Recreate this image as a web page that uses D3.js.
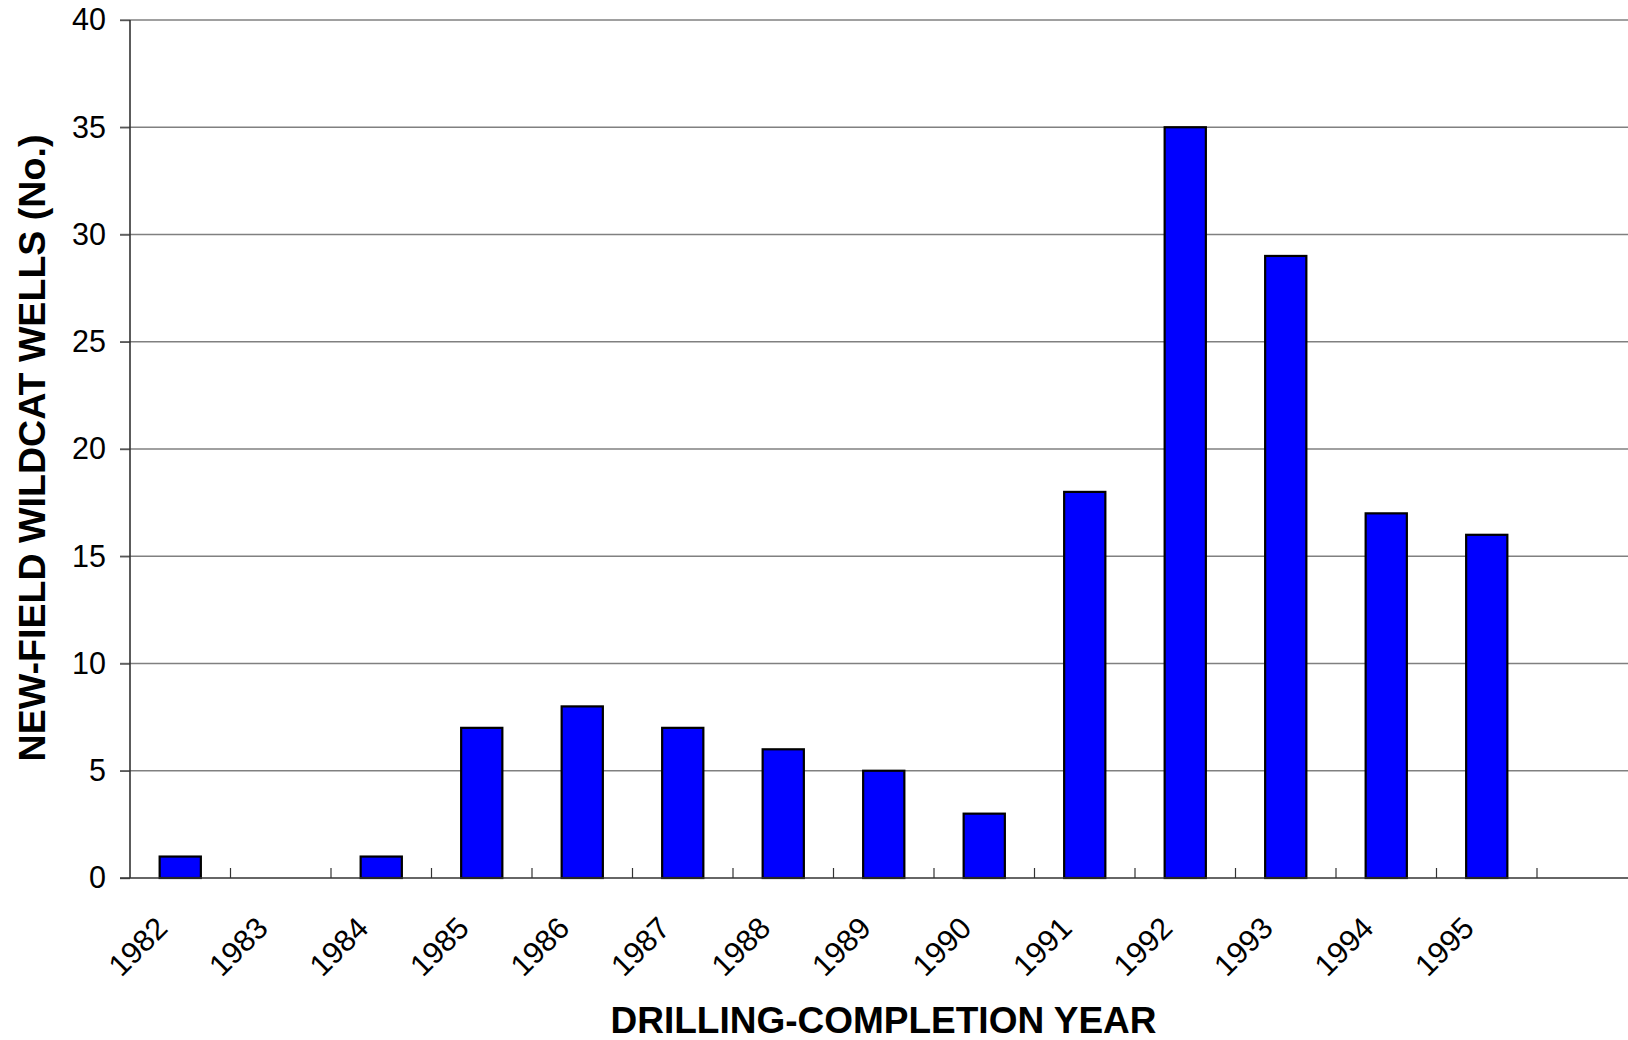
<!DOCTYPE html>
<html>
<head>
<meta charset="utf-8">
<script src="https://cdn.jsdelivr.net/npm/d3@7"></script>
<style>
  html, body { margin: 0; padding: 0; background: #fff; }
  svg { display: block; font-family: "Liberation Sans", Arial, sans-serif; }
</style>
</head>
<body>
<svg id="chart" width="1628" height="1040"></svg>
<script>
const years = ["1982","1983","1984","1985","1986","1987","1988","1989","1990","1991","1992","1993","1994","1995"];
const wells = [1, 0, 1, 7, 8, 7, 6, 5, 3, 18, 35, 29, 17, 16];
const yTicks = [0, 5, 10, 15, 20, 25, 30, 35, 40];
const yTitle = "NEW-FIELD WILDCAT WELLS (No.)";
const xTitle = "DRILLING-COMPLETION YEAR";

(function () {
const svg = d3.select("#chart");
const mLeft = 130, mTop = 20, mBottom = 878, rightEdge = 1628;
const bandStep = 100.5;

const x = d3.scaleBand().domain(years).range([mLeft, mLeft + bandStep * years.length]).paddingInner(0.59).paddingOuter(0.295);
const xb = d3.scaleBand().domain(years).range([mLeft, mLeft + bandStep * years.length]).padding(0);
const y = d3.scaleLinear().domain([0, 40]).range([mBottom, mTop]);

// gridlines
svg.append("g").selectAll("line").data(yTicks.filter(d => d > 0)).join("line")
  .attr("x1", mLeft - 10).attr("x2", rightEdge)
  .attr("y1", d => y(d)).attr("y2", d => y(d))
  .attr("stroke", "#808080").attr("stroke-width", 1.4);

// y axis
const yAxis = d3.axisLeft(y).tickValues(yTicks).tickSize(10).tickPadding(14).tickFormat(d3.format("d"));
const gy = svg.append("g").attr("transform", `translate(${mLeft},0)`).call(yAxis);
gy.select(".domain").remove();
gy.selectAll(".tick line").attr("stroke", "#555").attr("stroke-width", 1.4);
gy.selectAll(".tick text").attr("font-size", 30.5).attr("fill", "#000")
  .attr("font-family", '"Liberation Sans", Arial, sans-serif');
svg.append("line").attr("x1", mLeft).attr("x2", mLeft).attr("y1", mTop).attr("y2", mBottom)
  .attr("stroke", "#333").attr("stroke-width", 1.6);

// bars
svg.append("g").selectAll("rect").data(years).join("rect")
  .attr("x", d => x(d))
  .attr("width", x.bandwidth())
  .attr("y", (d, i) => y(wells[i]))
  .attr("height", (d, i) => y(0) - y(wells[i]))
  .attr("fill", "#0000ff")
  .attr("stroke", "#000").attr("stroke-width", 2.2);

// x axis line
svg.append("line").attr("x1", mLeft - 10).attr("x2", rightEdge).attr("y1", mBottom).attr("y2", mBottom)
  .attr("stroke", "#333").attr("stroke-width", 1.6);

// boundary ticks
const boundaries = years.map(d => xb(d) + xb.bandwidth());
svg.append("g").selectAll("line").data(boundaries).join("line")
  .attr("x1", d => d).attr("x2", d => d)
  .attr("y1", mBottom).attr("y2", mBottom - 10)
  .attr("stroke", "#333").attr("stroke-width", 1.2);

// x labels
svg.append("g").selectAll("text").data(years).join("text")
  .attr("transform", d => `translate(${xb(d) + xb.bandwidth() / 2 - 11},${mBottom + 52}) rotate(-45)`)
  .attr("text-anchor", "end")
  .attr("font-size", 30.5)
  .attr("fill", "#000")
  .text(d => d);

// titles
svg.append("text")
  .attr("transform", `translate(45,448) rotate(-90)`)
  .attr("text-anchor", "middle")
  .attr("font-size", 37.6).attr("font-weight", "bold")
  .text(yTitle);

svg.append("text")
  .attr("x", 883.5).attr("y", 1033)
  .attr("text-anchor", "middle")
  .attr("font-size", 37).attr("font-weight", "bold")
  .text(xTitle);
})();
</script>
</body>
</html>
